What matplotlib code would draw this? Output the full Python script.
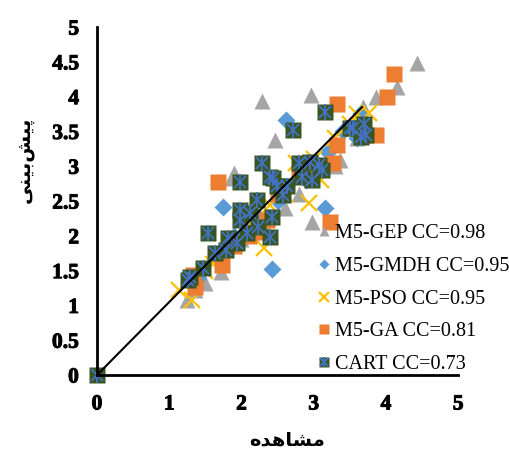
import matplotlib
matplotlib.use('Agg')
import matplotlib.pyplot as plt
import matplotlib.patheffects as pe

# Observed vs predicted values for each model
gep_obs = [2.29, 2.46, 2.96, 3.86, 4.16, 4.43, 3.37, 2.98, 1.87, 1.89, 1.24, 1.50, 1.71,
           2.0, 2.3, 2.6, 2.8, 3.3, 3.6, 3.69, 1.35, 2.15]
gep_pred = [3.94, 3.38, 4.02, 4.00, 4.14, 4.48, 3.09, 2.20, 2.83, 2.90, 1.08, 1.32, 1.48,
            1.95, 2.2, 2.4, 2.6, 3.0, 3.4, 3.85, 1.22, 2.05]

gmdh_obs = [1.75, 2.42, 2.61, 3.16, 3.65, 2.2, 2.5, 1.4, 3.2, 2.9, 3.4, 1.9, 3.6]
gmdh_pred = [2.42, 1.53, 3.66, 2.40, 3.76, 2.3, 2.5, 1.4, 3.2, 2.8, 3.5, 2.0, 3.4]

pso_obs = [1.13, 1.31, 2.31, 2.93, 3.76, 1.6, 1.9, 2.2, 2.6, 2.75, 3.0, 3.3, 3.5, 3.6,
           1.5, 3.1, 2.4]
pso_pred = [1.22, 1.08, 1.82, 2.47, 3.76, 1.6, 1.85, 2.1, 2.6, 3.05, 3.1, 3.4, 3.6, 3.75,
            1.5, 2.8, 2.45]

ga_obs = [1.68, 4.11, 4.02, 3.33, 3.86, 3.33, 3.27, 3.23, 1.33, 1.36, 1.73, 2.35, 1.9,
          2.1, 2.5, 2.8, 2.2, 3.0]
ga_pred = [2.78, 4.33, 4.00, 3.89, 3.45, 3.30, 3.05, 2.20, 1.44, 1.27, 1.58, 2.23, 1.85,
           2.0, 2.6, 2.9, 2.05, 3.0]

cart_obs = [0.0, 1.98, 1.54, 2.28, 2.72, 3.16, 3.65, 3.51, 3.07, 3.12, 2.95, 2.79, 2.84,
            2.98, 2.40, 2.49, 2.63, 2.58, 2.21, 2.40, 1.98, 2.12, 1.98, 2.08, 1.94, 1.82,
            1.78, 1.64, 1.47, 1.29, 2.23, 2.42, 1.26, 3.55, 3.70, 3.72, 2.44]
cart_pred = [0.0, 2.78, 2.04, 3.04, 3.52, 3.78, 3.42, 3.55, 3.02, 2.95, 3.06, 3.04, 2.85,
             2.80, 2.85, 2.71, 2.71, 2.59, 2.51, 1.99, 2.37, 2.33, 2.23, 2.04, 1.89, 1.97,
             1.80, 1.75, 1.54, 1.41, 2.13, 2.27, 1.36, 3.55, 3.60, 3.45, 2.83]

fit_x = [0.0, 3.67]
fit_y = [0.0, 3.85]

labels = ['M5-GEP CC=0.98', 'M5-GMDH CC=0.95', 'M5-PSO CC=0.95', 'M5-GA CC=0.81',
          'CART CC=0.73']

xlabel_fa = '\uFEE9\uFEAA\uFEEB\uFE8E\uFEB8\uFEE3'
ylabel_fa = '\uFBFD\uFEE8\uFBFF\uFE91\uFEB6\uFBFF\uFB58'

grey = '#A5A5A5'
blue = '#5B9BD5'
yellow = '#FFC000'
orange = '#ED7D31'
green = '#375623'
star_blue = '#4472C4'

plt.rcParams['font.family'] = 'Liberation Serif'
plt.rcParams['font.weight'] = 'bold'

fig = plt.figure(figsize=(5.09, 4.51), dpi=100)
ax = fig.add_axes([0.1906, 0.1685, 0.7094, 0.7715])

h1, = ax.plot(gep_obs, gep_pred, ls='none', marker='^', ms=12, color=grey, mec='none')
h2, = ax.plot(gmdh_obs, gmdh_pred, ls='none', marker='D', ms=9, color=blue, mec='none')
h3, = ax.plot(pso_obs, pso_pred, ls='none', marker='x', ms=11, color=yellow, mew=1.6)
h4, = ax.plot(ga_obs, ga_pred, ls='none', marker='s', ms=12, color=orange, mec='none')
h5a, = ax.plot(cart_obs, cart_pred, ls='none', marker='s', ms=12, color=green, mec='none')
h5b, = ax.plot(cart_obs, cart_pred, ls='none', marker='x', ms=9, color=star_blue, mew=1.3)
h5c, = ax.plot(cart_obs, cart_pred, ls='none', marker='|', ms=11, color=star_blue, mew=1.3)

ax.plot(fit_x, fit_y, color='black', lw=1.5, zorder=5)

ax.set_xlim(0, 5)
ax.set_ylim(0, 5)
ax.set_xticks([0, 1, 2, 3, 4, 5])
ax.set_yticks([0, 0.5, 1, 1.5, 2, 2.5, 3, 3.5, 4, 4.5, 5])
ax.set_yticklabels(['0', '0.5', '1', '1.5', '2', '2.5', '3', '3.5', '4', '4.5', '5'])
for s in ['top', 'right']:
    ax.spines[s].set_visible(False)
for s in ['left', 'bottom']:
    ax.spines[s].set_linewidth(2)
ax.tick_params(length=0, labelsize=15.5)
ax.tick_params(axis='y', pad=13)
ax.tick_params(axis='x', pad=14)
# heavier stroke so the bold serif digits read as in print
for t in ax.get_xticklabels() + ax.get_yticklabels():
    t.set_path_effects([pe.withStroke(linewidth=0.7, foreground='black')])
for ln in ax.lines:
    ln.set_clip_on(False)

leg = ax.legend([h1, h2, h3, h4, (h5a, h5b, h5c)], labels,
                loc='upper left', bbox_to_anchor=(318 / 509, 1 - 224 / 451),
                bbox_transform=fig.transFigure, frameon=False, markerscale=0.6,
                prop={'family': 'Liberation Serif', 'size': 14.5, 'weight': 'normal'},
                handlelength=0.6, handletextpad=0.25, labelspacing=0.68,
                borderaxespad=0, borderpad=0)

fig.text(287 / 509, 1 - 440 / 451, xlabel_fa, ha='center', va='center',
         fontsize=14, fontweight='bold', family='DejaVu Sans')
fig.text(24 / 509, 1 - 160 / 451, ylabel_fa, ha='center', va='center', rotation=90,
         fontsize=14, fontweight='bold', family='DejaVu Sans')

fig.savefig('out.png', dpi=100)
